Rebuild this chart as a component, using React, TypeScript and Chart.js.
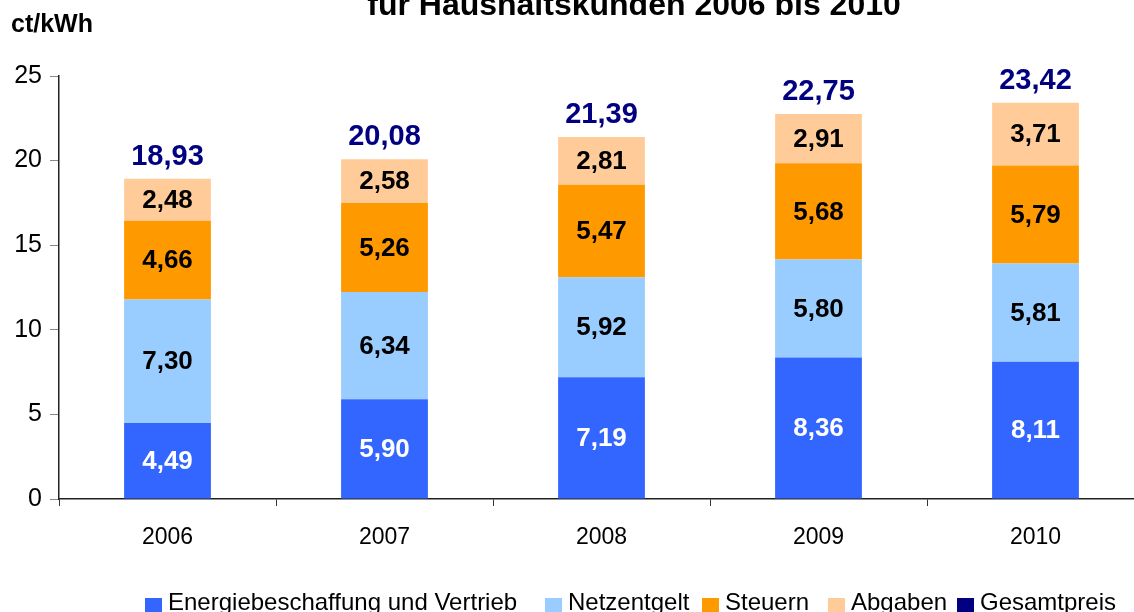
import React, { useEffect, useRef } from "react";
import { Chart, registerables } from "chart.js";

Chart.register(...registerables);

const years = ["2006", "2007", "2008", "2009", "2010"];
const energie = [4.49, 5.9, 7.19, 8.36, 8.11];
const netzentgelt = [7.3, 6.34, 5.92, 5.8, 5.81];
const steuern = [4.66, 5.26, 5.47, 5.68, 5.79];
const abgaben = [2.48, 2.58, 2.81, 2.91, 3.71];
const gesamtpreis = [18.93, 20.08, 21.39, 22.75, 23.42];
const seriesNames = ["Energiebeschaffung und Vertrieb", "Netzentgelt", "Steuern", "Abgaben", "Gesamtpreis"];
const titleText = "für Haushaltskunden 2006 bis 2010";
const unitText = "ct/kWh";

const FONT = '"Liberation Sans", Arial, sans-serif';
const colors = ["#3366FF", "#99CCFF", "#FF9900", "#FFCC99", "#000080"];
const legendX = [145, 545, 702, 828, 957];

const fmt = (v: number) => v.toFixed(2).replace(".", ",");

const labelPlugin = {
  id: "labels",
  afterDatasetsDraw(chart: any) {
    const ctx = chart.ctx;
    ctx.save();
    ctx.textAlign = "center";
    ctx.textBaseline = "middle";
    chart.data.datasets.forEach((ds: any, di: number) => {
      const meta = chart.getDatasetMeta(di);
      if (ds.type === "line") {
        ctx.font = `bold 29px ${FONT}`;
        ctx.fillStyle = "#000080";
        meta.data.forEach((el: any, i: number) => {
          ctx.fillText(fmt(ds.data[i]), el.x, el.y - 22);
        });
      } else {
        ctx.font = `bold 26px ${FONT}`;
        ctx.fillStyle = di === 0 ? "#FFFFFF" : "#000000";
        meta.data.forEach((el: any, i: number) => {
          ctx.fillText(fmt(ds.data[i]), el.x, (el.y + el.base) / 2 + 1);
        });
      }
    });
    ctx.restore();
  },
};

const decorPlugin = {
  id: "decor",
  afterDraw(chart: any) {
    const ctx = chart.ctx;
    ctx.save();
    ctx.fillStyle = "#000";
    ctx.textBaseline = "alphabetic";
    ctx.textAlign = "center";
    ctx.font = `bold 32px ${FONT}`;
    ctx.fillText(titleText, 634, 15);
    ctx.textAlign = "left";
    ctx.font = `bold 25px ${FONT}`;
    ctx.fillText(unitText, 11, 32);
    ctx.font = `24px ${FONT}`;
    seriesNames.forEach((name, i) => {
      const x = legendX[i];
      ctx.fillStyle = colors[i];
      ctx.fillRect(x, 598, 17, 17);
      ctx.fillStyle = "#000";
      ctx.fillText(name, x + 23, 610);
    });
    ctx.restore();
  },
};

export default function App() {
  const ref = useRef<HTMLCanvasElement>(null);
  useEffect(() => {
    if (!ref.current) return;
    const barDs = [energie, netzentgelt, steuern, abgaben].map((d, i) => ({
      type: "bar" as const,
      label: seriesNames[i],
      data: d,
      backgroundColor: colors[i],
      borderWidth: 0,
      barPercentage: 0.4,
      categoryPercentage: 1,
      order: 1,
    }));
    const chart = new Chart(ref.current, {
      type: "bar",
      data: {
        labels: years,
        datasets: [
          ...barDs,
          {
            type: "line" as const,
            label: seriesNames[4],
            data: gesamtpreis,
            borderColor: colors[4],
            backgroundColor: colors[4],
            showLine: false,
            pointRadius: 0,
            order: 0,
          } as any,
        ],
      },
      options: {
        animation: false,
        responsive: true,
        maintainAspectRatio: false,
        layout: { padding: { left: 0, right: 56, top: 76, bottom: 81 } },
        plugins: {
          legend: { display: false },
          title: { display: false },
          tooltip: { enabled: false },
        },
        scales: {
          x: {
            stacked: true,
            offset: true,
            afterFit: (s: any) => {
              s.height = 60;
            },
            grid: {
              offset: true,
              drawOnChartArea: false,
              drawTicks: true,
              tickLength: 7,
              color: "#333",
            },
            border: { color: "#222", width: 1.5 },
            ticks: {
              color: "#000",
              font: { family: FONT, size: 23 },
              padding: 18,
            },
          },
          y: {
            stacked: true,
            min: 0,
            max: 25,
            afterFit: (s: any) => {
              s.width = 59;
            },
            grid: {
              drawOnChartArea: false,
              drawTicks: true,
              tickLength: 9,
              color: "#888",
            },
            border: { color: "#222", width: 1.5 },
            ticks: {
              stepSize: 5,
              color: "#000",
              font: { family: FONT, size: 25 },
              padding: 8,
            },
          },
        },
      },
      plugins: [labelPlugin, decorPlugin],
    });
    return () => chart.destroy();
  }, []);

  return (
    <div
      style={{
        position: "fixed",
        left: 0,
        top: 0,
        width: 1134,
        height: 612,
        overflow: "hidden",
        background: "#fff",
      }}
    >
      <div style={{ position: "absolute", left: 0, top: 0, width: 1200, height: 640 }}>
        <canvas ref={ref} />
      </div>
    </div>
  );
}
